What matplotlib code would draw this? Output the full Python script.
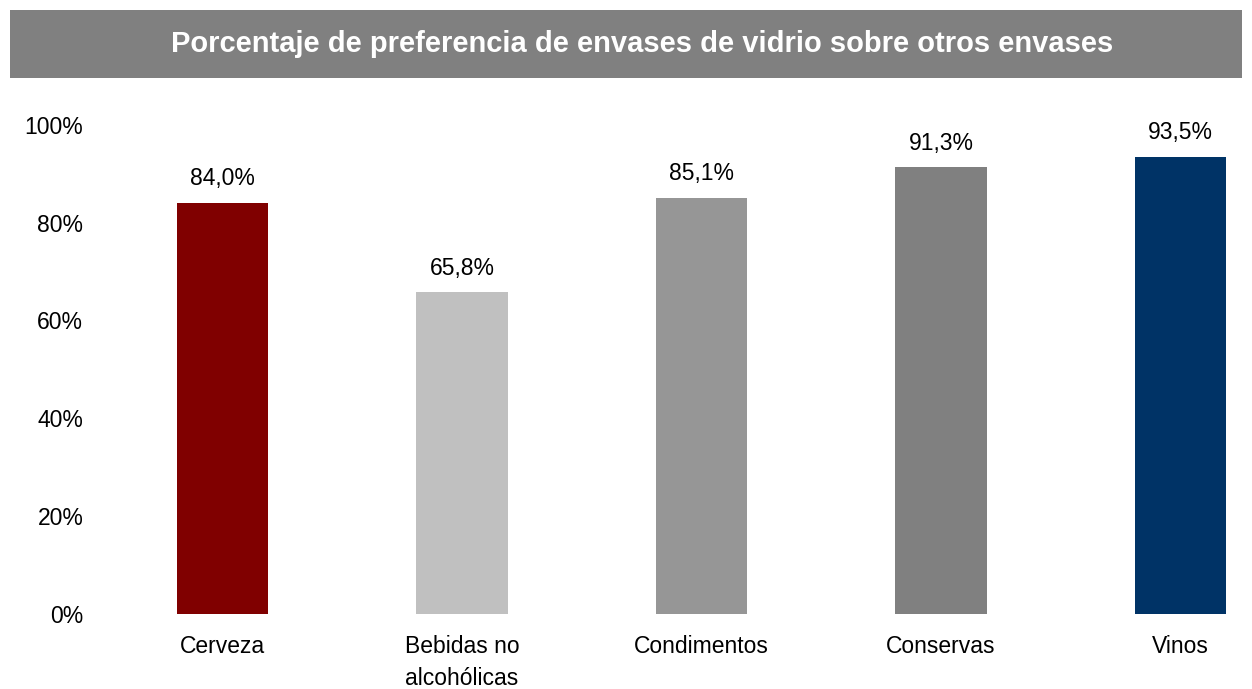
import matplotlib
matplotlib.use("Agg")
import matplotlib.pyplot as plt
from matplotlib.patches import Rectangle
from matplotlib.ticker import FuncFormatter

plt.rcParams['font.family'] = ['Liberation Sans', 'DejaVu Sans']

categories = ["Cerveza", "Bebidas no\nalcohólicas", "Condimentos", "Conservas", "Vinos"]
values = [84.0, 65.8, 85.1, 91.3, 93.5]
colors = ["#800000", "#c0c0c0", "#969696", "#808080", "#003366"]
y_ticks = [0, 20, 40, 60, 80, 100]
title = "Porcentaje de preferencia de envases de vidrio sobre otros envases"

W, H = 1252, 689
fig = plt.figure(figsize=(W / 100, H / 100), dpi=100)

# grey title banner
fig.patches.append(Rectangle((10 / W, 1 - 78 / H), 1232 / W, 68 / H,
                             transform=fig.transFigure, facecolor="#808080",
                             edgecolor="none", zorder=0))
fig.text(642 / W, 1 - 44 / H, title, color="white", fontsize=21,
         fontweight="bold", ha="center", va="center")

step = 239.5
left = 102.75
right = 1242
bottom = 614
top = 124.7
ax = fig.add_axes([left / W, 1 - bottom / H, (right - left) / W, (bottom - top) / H])
x = list(range(len(categories)))
ax.bar(x, values, width=0.38, color=colors, zorder=2)
ax.set_xlim(-0.5, (right - left) / step - 0.5)
ax.set_ylim(0, 100)
ax.set_yticks(y_ticks)
ax.yaxis.set_major_formatter(FuncFormatter(lambda v, p: f"{v:.0f}%"))
ax.set_xticks(x)
ax.set_xticklabels(categories, fontsize=16.5, linespacing=1.5, va="top")
ax.tick_params(axis="y", labelsize=16.5, length=0, pad=14)
ax.tick_params(axis="x", length=0, pad=15)
for s in ax.spines.values():
    s.set_visible(False)

for xi, v in zip(x, values):
    ax.annotate(f"{v:.1f}%".replace(".", ","), (xi, v), xytext=(0, 9),
                textcoords="offset points", ha="center", va="bottom", fontsize=16.5)

fig.savefig("out.png", dpi=100)
